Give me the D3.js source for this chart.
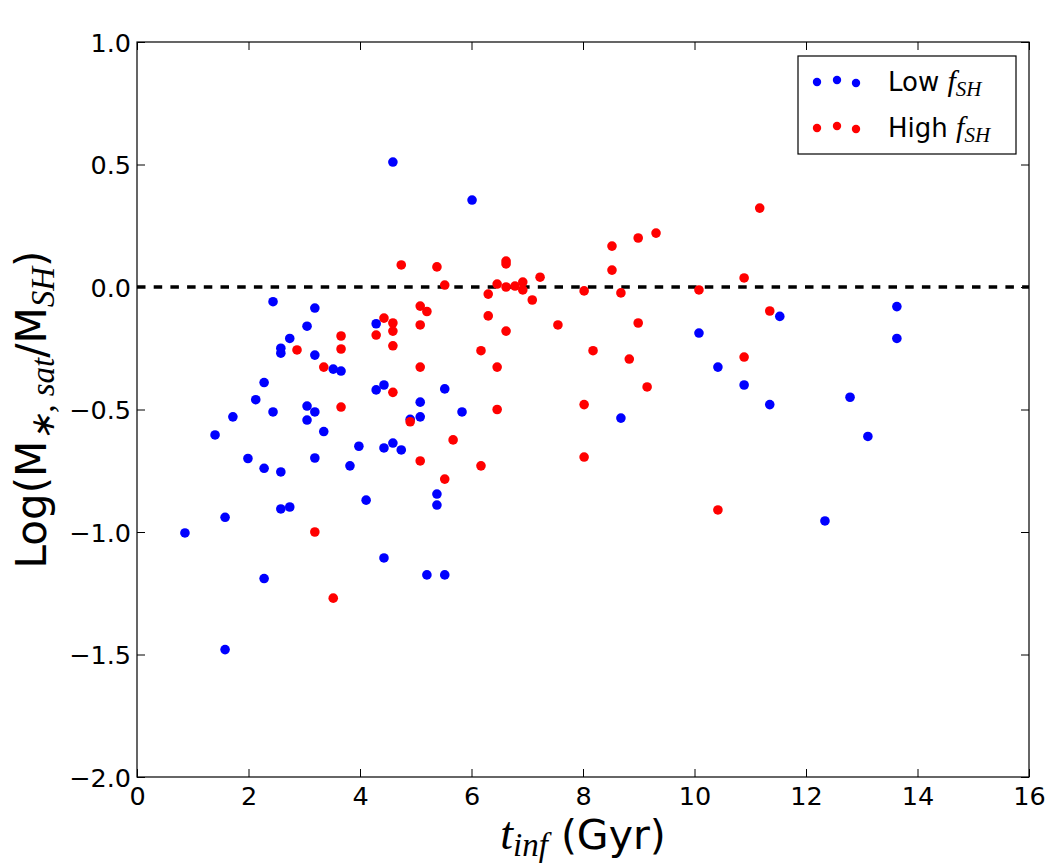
<!DOCTYPE html>
<html><head><meta charset="utf-8">
<script src="https://cdn.jsdelivr.net/npm/d3@7"></script>
<style>body{margin:0;background:#fff}</style>
</head><body>
<svg id="c" width="1050" height="863"></svg>
<script>
const lowX = [0.86,1.40,1.58,1.58,1.72,1.99,2.13,2.28,2.28,2.28,2.44,2.44,2.58,2.58,2.58,2.58,2.74,2.74,3.05,3.05,3.05,3.19,3.19,3.19,3.19,3.35,3.52,3.66,3.82,3.98,4.11,4.29,4.29,4.43,4.43,4.43,4.59,4.59,4.74,4.90,5.08,5.08,5.20,5.38,5.38,5.52,5.52,5.83,6.01,8.68,10.08,10.42,10.89,11.35,11.53,12.34,12.79,13.11,13.63,13.63];
const lowY = [-1.004,-0.604,-0.94,-1.48,-0.53,-0.70,-0.46,-0.39,-0.74,-1.19,-0.06,-0.51,-0.25,-0.27,-0.755,-0.906,-0.21,-0.898,-0.16,-0.486,-0.543,-0.086,-0.278,-0.51,-0.698,-0.59,-0.335,-0.343,-0.73,-0.65,-0.87,-0.15,-0.42,-0.40,-0.657,-1.106,0.51,-0.637,-0.665,-0.54,-0.47,-0.53,-1.175,-0.845,-0.89,-0.416,-1.175,-0.51,0.355,-0.535,-0.188,-0.327,-0.40,-0.48,-0.12,-0.955,-0.45,-0.61,-0.08,-0.21];
const highX = [2.87,3.19,3.35,3.52,3.66,3.66,3.66,4.29,4.43,4.59,4.59,4.59,4.59,4.74,4.90,5.08,5.08,5.08,5.08,5.20,5.38,5.52,5.52,5.67,6.17,6.17,6.30,6.30,6.46,6.46,6.46,6.62,6.62,6.62,6.62,6.78,6.92,6.92,7.09,7.23,7.55,8.02,8.02,8.02,8.18,8.52,8.52,8.68,8.83,8.99,8.99,9.15,9.31,10.08,10.42,10.89,10.89,11.17,11.35];
const highY = [-0.257,-1.0,-0.327,-1.27,-0.20,-0.253,-0.49,-0.196,-0.127,-0.147,-0.18,-0.24,-0.43,0.09,-0.55,-0.078,-0.155,-0.327,-0.71,-0.10,0.082,0.008,-0.784,-0.624,-0.26,-0.73,-0.029,-0.118,0.012,-0.327,-0.50,0.106,0.094,0.0,-0.18,0.004,0.02,-0.012,-0.053,0.04,-0.155,-0.016,-0.48,-0.694,-0.26,0.167,0.069,-0.024,-0.294,0.20,-0.147,-0.408,0.22,-0.012,-0.91,0.037,-0.286,0.322,-0.098];
const xTicks = [0,2,4,6,8,10,12,14,16];
const yTicks = [1.0,0.5,0.0,-0.5,-1.0,-1.5,-2.0];
const seriesNames = ["Low", "High"];
const seriesColors = ["#0000ff", "#ff0000"];

const svg = d3.select("#c");
const L = 137, R = 1029, T = 42, B = 777;
const x = d3.scaleLinear().domain([0,16]).range([L,R]);
const y = d3.scaleLinear().domain([-2,1]).range([B,T]);

const fmtY = d => (d<0?"\u2212":"") + Math.abs(d).toFixed(1);
const sans = "DejaVu Sans, sans-serif";
const serif = "Liberation Serif, serif";

// dashed zero line
svg.append("line").attr("x1",L).attr("x2",R).attr("y1",y(0)).attr("y2",y(0))
  .attr("stroke","#000").attr("stroke-width",3.5).attr("stroke-dasharray","8.5,8.2");

// points
function dots(xs, ys, c){
  svg.append("g").selectAll("circle").data(xs.map((v,i)=>[v,ys[i]])).join("circle")
    .attr("cx",d=>x(d[0])).attr("cy",d=>y(d[1])).attr("r",4.8).attr("fill",c);
}
dots(lowX, lowY, seriesColors[0]);
dots(highX, highY, seriesColors[1]);

// axes (ticks inward, all sides)
const tl = 8;
const gB = svg.append("g").attr("transform",`translate(0,${B})`)
  .call(d3.axisBottom(x).tickValues(xTicks).tickSize(-tl).tickPadding(10).tickFormat(d3.format("d")));
const gT = svg.append("g").attr("transform",`translate(0,${T})`)
  .call(d3.axisTop(x).tickValues(xTicks).tickSize(-tl).tickFormat(""));
const gL = svg.append("g").attr("transform",`translate(${L},0)`)
  .call(d3.axisLeft(y).tickValues(yTicks).tickSize(-tl).tickPadding(6).tickFormat(fmtY));
const gR = svg.append("g").attr("transform",`translate(${R},0)`)
  .call(d3.axisRight(y).tickValues(yTicks).tickSize(-tl).tickFormat(""));
[gB,gT,gL,gR].forEach(g=>{
  g.select(".domain").remove();
  g.selectAll("line").attr("stroke","#000").attr("stroke-width",1);
  g.selectAll("text").attr("font-family",sans).attr("font-size",25.5).attr("fill","#000");
});
gL.selectAll("text").attr("dy","0.36em");
svg.append("rect").attr("x",L).attr("y",T).attr("width",R-L).attr("height",B-T)
  .attr("fill","none").attr("stroke","#000").attr("stroke-width",1.2);

// x label
const xl = svg.append("text").attr("x",(L+R)/2).attr("y",849).attr("text-anchor","middle")
  .attr("font-size",41).attr("fill","#000");
xl.append("tspan").attr("font-family",serif).attr("font-style","italic").attr("font-size",46).text("t");
xl.append("tspan").attr("font-family",serif).attr("font-style","italic").attr("font-size",33).attr("dy",7).text("inf");
xl.append("tspan").attr("font-family",sans).attr("dy",-7).text(" (Gyr)");

// y label
const yl = svg.append("text").attr("transform",`translate(46,${(T+B)/2}) rotate(-90)`)
  .attr("text-anchor","middle").attr("font-family",sans).attr("font-size",42).attr("fill","#000");
yl.append("tspan").text("Log(M");
yl.append("tspan").attr("font-family",serif).attr("font-style","italic").attr("font-size",33).attr("dy",8).text("\u2217, sat");
yl.append("tspan").attr("dy",-8).text("/M");
yl.append("tspan").attr("font-family",serif).attr("font-style","italic").attr("font-size",33).attr("dy",8).text("SH");
yl.append("tspan").attr("dy",-8).text(")");

// legend
const lg = svg.append("g");
lg.append("rect").attr("x",798).attr("y",56).attr("width",218).attr("height",98)
  .attr("fill","#fff").attr("stroke","#000").attr("stroke-width",1.2);
const offs = [[817,2],[837,0],[856,3]];
seriesNames.forEach((n,i)=>{
  const cy = 81 + i*46;
  offs.forEach(o=>lg.append("circle").attr("cx",o[0]).attr("cy",cy+o[1]-1).attr("r",4.2).attr("fill",seriesColors[i]));
  const t = lg.append("text").attr("x",888).attr("y",cy+10).attr("font-family",sans).attr("font-size",26).attr("fill","#000");
  t.append("tspan").text(n+" ");
  t.append("tspan").attr("font-family",serif).attr("font-style","italic").attr("font-size",30).text("f");
  t.append("tspan").attr("font-family",serif).attr("font-style","italic").attr("font-size",21).attr("dy",5).text("SH");
});
</script>
</body></html>
